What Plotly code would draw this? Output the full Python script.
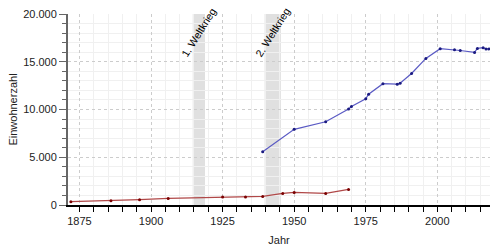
import plotly.graph_objects as go

# Data
red_years = [1872, 1886, 1896, 1906, 1925, 1933, 1939, 1946, 1950, 1961, 1969]
red_pop = [350, 450, 560, 690, 840, 840, 900, 1210, 1320, 1210, 1630]

blue_years = [1939, 1950, 1961, 1969, 1970, 1975, 1976, 1981, 1986, 1987, 1991,
              1996, 2001, 2006, 2008, 2013, 2014, 2016, 2017, 2018]
blue_pop = [5580, 7920, 8720, 10050, 10320, 11130, 11600, 12700, 12650, 12740, 13770,
            15350, 16370, 16250, 16180, 15980, 16400, 16470, 16340, 16340]

war_labels = ["1. Weltkrieg", "2. Weltkrieg"]
war_start = [1914.57, 1939.67]
war_end = [1918.86, 1945.35]

x_range = [1871, 2018.4]
y_range = [0, 20000]

FONT = "Liberation Sans, Arial, sans-serif"

fig = go.Figure()

fig.add_trace(go.Scatter(
    x=red_years, y=red_pop, mode="lines+markers",
    line=dict(color="#b04848", width=1.2),
    marker=dict(color="#7a0000", size=3),
    showlegend=False, hoverinfo="skip"))

fig.add_trace(go.Scatter(
    x=blue_years, y=blue_pop, mode="lines+markers",
    line=dict(color="#5a5ac4", width=1.2),
    marker=dict(color="#1a1a80", size=3),
    showlegend=False, hoverinfo="skip"))

for lbl, s, e in zip(war_labels, war_start, war_end):
    fig.add_shape(type="rect", xref="x", yref="paper", x0=s, x1=e, y0=0, y1=1,
                  fillcolor="#e0e0e0", line=dict(width=0), layer="below")
    fig.add_annotation(x=(s + e) / 2, y=18100, xref="x", yref="y", text=lbl,
                       textangle=-58, showarrow=False, xanchor="center", yanchor="middle",
                       font=dict(family=FONT, size=10.5, color="#000"))

fig.update_layout(
    width=500, height=250,
    margin=dict(l=68, r=10, t=14, b=45),
    paper_bgcolor="white", plot_bgcolor="white",
    separators=",.",
    font=dict(family=FONT, size=11, color="#222"),
)

fig.update_xaxes(
    range=x_range, tick0=1875, dtick=25, automargin=False,
    showgrid=True, gridcolor="#cccccc", griddash="dot", gridwidth=1,
    ticks="outside", ticklen=5, tickcolor="#000", tickwidth=1,
    showline=True, linecolor="#000", linewidth=1.5,
    zeroline=False,
    minor=dict(dtick=5, tick0=1875, showgrid=True, gridcolor="#f0f0f0", gridwidth=1,
               griddash="solid", ticks="outside", ticklen=5, tickcolor="#000"),
    title=dict(text="Jahr", font=dict(size=11, color="#222"), standoff=10),
    tickfont=dict(size=11, color="#222"),
)

fig.update_yaxes(
    range=y_range, tick0=0, dtick=5000, tickformat=",d", automargin=False,
    showgrid=True, gridcolor="#cccccc", griddash="dot", gridwidth=1,
    ticks="outside", ticklen=7, tickcolor="#666", tickwidth=1,
    showline=True, linecolor="#666", linewidth=2,
    zeroline=False,
    minor=dict(dtick=1000, showgrid=True, gridcolor="#f0f0f0", gridwidth=1,
               griddash="solid", ticks="outside", ticklen=4, tickcolor="#666"),
    title=dict(text="Einwohnerzahl", font=dict(size=11, color="#222"), standoff=3),
    tickfont=dict(size=11, color="#222"),
)

fig.write_html("out.html")
